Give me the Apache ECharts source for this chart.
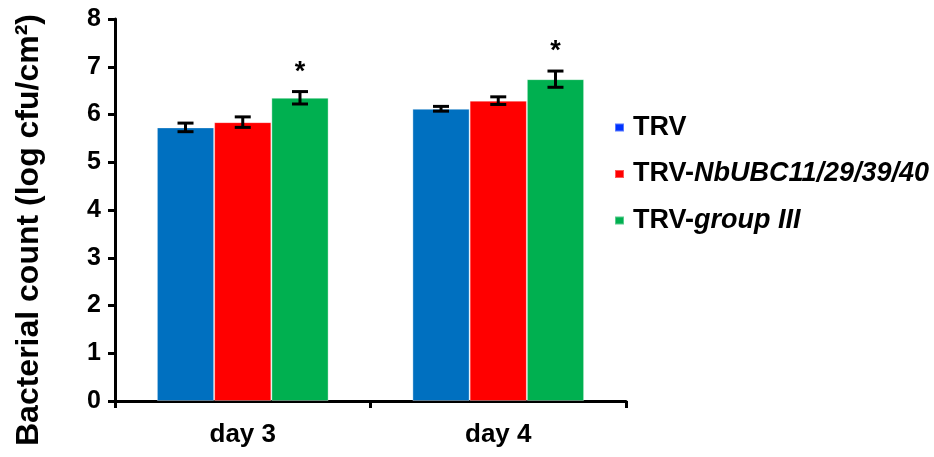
<!DOCTYPE html>
<html>
<head>
<meta charset="utf-8">
<script src="https://cdn.jsdelivr.net/npm/echarts@6/dist/echarts.min.js"></script>
<style>html,body{margin:0;padding:0;background:#fff;}#c{width:934px;height:457px;}</style>
</head>
<body>
<div id="c"></div>
<script>
const categories = ['day 3', 'day 4'];
const seriesNames = ['TRV', 'TRV-NbUBC11/29/39/40', 'TRV-group III'];
const trv = [5.73, 6.12];
const trvUbc = [5.84, 6.29];
const trvGroup3 = [6.35, 6.74];
const trvErr = [0.09, 0.05];
const trvUbcErr = [0.11, 0.08];
const trvGroup3Err = [0.13, 0.17];
const trvStar = ['', ''];
const trvUbcStar = ['', ''];
const trvGroup3Star = ['*', '*'];
const yTicks = [0, 1, 2, 3, 4, 5, 6, 7, 8];

const barColors = ['#0070C0', '#FF0000', '#00B050'];
const legendColors = ['#0033FF', '#FF0000', '#00B050'];
const means = [trv, trvUbc, trvGroup3];
const errs = [trvErr, trvUbcErr, trvGroup3Err];
const stars = [trvStar, trvUbcStar, trvGroup3Star];
const FONT = 'Liberation Sans, Arial, sans-serif';
const BAR_FRAC = 0.224;

const errData = [];
for (let s = 0; s < 3; s++) {
  for (let c = 0; c < categories.length; c++) {
    errData.push([c, s, means[s][c], errs[s][c], stars[s][c]]);
  }
}

const chart = echarts.init(document.getElementById('c'), null, {renderer: 'canvas'});
const option = {
  animation: false,
  backgroundColor: '#fff',
  grid: {left: 115, right: 308, top: 19, bottom: 56, containLabel: false},
  legend: {
    orient: 'vertical',
    left: 609,
    top: 109,
    icon: 'rect',
    itemWidth: 9,
    itemHeight: 8,
    itemGap: 19.5,
    data: seriesNames.map((n, i) => ({name: n, itemStyle: {color: legendColors[i]}})),
    formatter: function (name) {
      if (name === seriesNames[1]) return 'TRV-{i|NbUBC11/29/39/40}';
      if (name === seriesNames[2]) return 'TRV-{i|group III}';
      return name;
    },
    textStyle: {
      fontFamily: FONT, fontWeight: 'bold', fontSize: 27, color: '#000', lineHeight: 26, padding: [0, 0, 0, 4],
      rich: {i: {fontFamily: FONT, fontWeight: 'bold', fontStyle: 'italic', fontSize: 27, color: '#000', lineHeight: 26}}
    }
  },
  xAxis: {
    type: 'category',
    data: categories,
    axisLine: {lineStyle: {color: '#000', width: 3}},
    axisTick: {show: true, alignWithLabel: false, length: 7, lineStyle: {color: '#000', width: 3}},
    axisLabel: {fontFamily: FONT, fontWeight: 'bold', fontSize: 26, color: '#000', margin: 21}
  },
  yAxis: {
    type: 'value',
    min: yTicks[0],
    max: yTicks[yTicks.length - 1],
    interval: 1,
    name: 'Bacterial count (log cfu/cm²)',
    nameLocation: 'middle',
    nameGap: 70,
    nameRotate: 90,
    nameTextStyle: {fontFamily: FONT, fontWeight: 'bold', fontSize: 32, color: '#000', padding: [0, 40, 0, 0]},
    axisLine: {show: true, lineStyle: {color: '#000', width: 3}},
    axisTick: {show: true, length: 7, lineStyle: {color: '#000', width: 3}},
    splitLine: {show: false},
    axisLabel: {fontFamily: FONT, fontWeight: 'bold', fontSize: 25, color: '#000', margin: 14}
  },
  series: [
    ...seriesNames.map((n, i) => ({
      name: n,
      type: 'bar',
      data: means[i],
      barWidth: (BAR_FRAC * 100) + '%',
      barGap: '0%',
      itemStyle: {color: barColors[i], borderColor: 'rgba(255,255,255,0.35)', borderWidth: 1}
    })),
    {
      name: 'err',
      type: 'custom',
      data: errData,
      z: 10,
      renderItem: function (params, api) {
        const ci = api.value(0), si = api.value(1), m = api.value(2), e = api.value(3);
        const star = errData[params.dataIndex][4];
        const band = api.size([1, 0])[0];
        const cx = api.coord([ci, m])[0] + (si - 1) * band * BAR_FRAC;
        const yt = api.coord([ci, m + e])[1];
        const yb = api.coord([ci, m - e])[1];
        const hw = 8;
        const st = {stroke: '#000', lineWidth: 3};
        const children = [
          {type: 'line', shape: {x1: cx, y1: yt, x2: cx, y2: yb}, style: st},
          {type: 'line', shape: {x1: cx - hw, y1: yt, x2: cx + hw, y2: yt}, style: st},
          {type: 'line', shape: {x1: cx - hw, y1: yb, x2: cx + hw, y2: yb}, style: st}
        ];
        if (star) {
          children.push({type: 'text', style: {text: star, x: cx, y: yt - 6, align: 'center', verticalAlign: 'bottom',
            fontFamily: FONT, fontWeight: 'bold', fontSize: 27, fill: '#000'}});
        }
        return {type: 'group', children: children};
      }
    }
  ]
};
chart.setOption(option);
</script>
</body>
</html>
